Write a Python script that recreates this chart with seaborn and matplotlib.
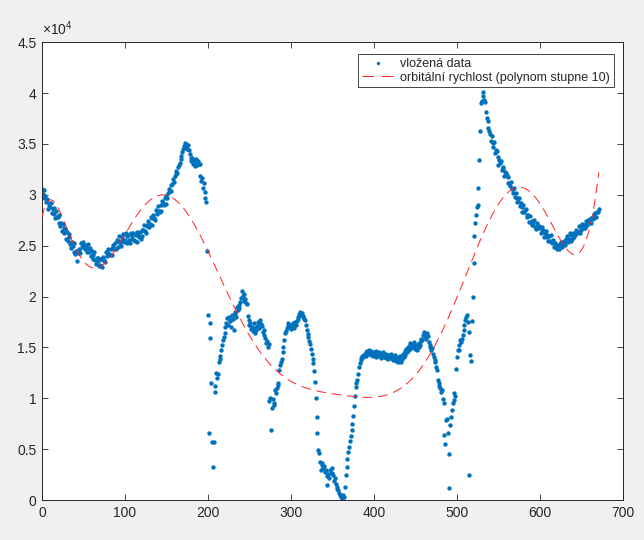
import numpy as np
import pandas as pd
import matplotlib
matplotlib.use("Agg")
import matplotlib.pyplot as plt
import seaborn as sns

# measured speed, in units of 1e4 (one value per sample, index = x)
v_1e4 = [
    3.06, 3.01, 3.05, 2.97, 2.99, 2.93, 2.96, 2.86, 2.92, 2.89,  # 0
    2.88, 2.92, 2.82, 2.86, 2.87, 2.81, 2.77, 2.84, 2.78, 2.78,  # 10
    2.80, 2.72, 2.69, 2.72, 2.64, 2.71, 2.67, 2.62, 2.66, 2.57,  # 20
    2.63, 2.55, 2.58, 2.61, 2.52, 2.48, 2.54, 2.50, 2.53, 2.44,  # 30
    2.42, 2.45, 2.35, 2.43, 2.47, 2.45, 2.43, 2.53, 2.49, 2.51,  # 40
    2.54, 2.49, 2.47, 2.51, 2.44, 2.52, 2.48, 2.44, 2.48, 2.40,  # 50
    2.45, 2.37, 2.41, 2.44, 2.36, 2.32, 2.38, 2.35, 2.38, 2.30,  # 60
    2.31, 2.37, 2.29, 2.36, 2.39, 2.36, 2.34, 2.44, 2.40, 2.43,  # 70
    2.47, 2.42, 2.41, 2.47, 2.41, 2.51, 2.49, 2.47, 2.53, 2.47,  # 80
    2.56, 2.49, 2.55, 2.59, 2.53, 2.50, 2.58, 2.56, 2.61, 2.54,  # 90
    2.56, 2.62, 2.53, 2.59, 2.60, 2.56, 2.53, 2.62, 2.57, 2.59,  # 100
    2.62, 2.56, 2.55, 2.60, 2.54, 2.63, 2.60, 2.58, 2.63, 2.57,  # 110
    2.65, 2.59, 2.65, 2.70, 2.64, 2.62, 2.70, 2.69, 2.74, 2.68,  # 120
    2.71, 2.78, 2.70, 2.77, 2.80, 2.77, 2.75, 2.85, 2.81, 2.84,  # 130
    2.89, 2.84, 2.83, 2.90, 2.84, 2.94, 2.92, 2.90, 2.97, 2.91,  # 140
    2.99, 2.97, 3.02, 3.06, 3.04, 3.04, 3.10, 3.11, 3.15, 3.13,  # 150
    3.18, 3.20, 3.23, 3.21, 3.27, 3.29, 3.31, 3.35, 3.38, 3.42,  # 160
    3.45, 3.48, 3.51, 3.47, 3.50, 3.45, 3.49, 3.44, 3.40, 3.36,  # 170
    3.33, 3.36, 3.30, 3.34, 3.28, 3.32, 3.35, 3.29, 3.33, 3.30,  # 180
    3.30, 3.18, 3.14, 3.16, 3.07, 3.12, 3.03, 2.97, 2.93, 2.45,  # 190
    1.82, 0.66, 1.74, 1.59, 1.15, 0.57, 0.32, 0.57, 1.06, 1.12,  # 200
    1.25, 1.20, 1.24, 1.36, 1.39, 1.42, 1.47, 1.52, 1.57, 1.60,  # 210
    1.64, 1.70, 1.74, 1.79, 1.72, 1.80, 1.76, 1.77, 1.70, 1.82,  # 220
    1.78, 1.67, 1.83, 1.85, 1.80, 1.90, 1.87, 1.92, 1.89, 1.95,  # 230
    1.99, 2.05, 2.01, 2.02, 1.96, 1.98, 1.94, 1.93, 1.81, 1.77,  # 240
    1.72, 1.74, 1.68, 1.70, 1.66, 1.74, 1.69, 1.64, 1.67, 1.71,  # 250
    1.75, 1.74, 1.69, 1.77, 1.73, 1.71, 1.65, 1.67, 1.62, 1.59,  # 260
    1.54, 1.56, 1.50, 1.53, 0.97, 1.00, 0.69, 0.90, 0.99, 0.95,  # 270
    0.93, 1.08, 1.05, 1.10, 1.13, 1.15, 1.28, 1.33, 1.36, 1.39,  # 280
    1.45, 1.50, 1.57, 1.64, 1.66, 1.69, 1.71, 1.74, 1.70, 1.72,  # 290
    1.68, 1.70, 1.74, 1.73, 1.69, 1.75, 1.72, 1.76, 1.78, 1.80,  # 300
    1.83, 1.85, 1.82, 1.84, 1.81, 1.80, 1.78, 1.77, 1.72, 1.67,  # 310
    1.63, 1.60, 1.56, 1.53, 1.48, 1.44, 1.39, 1.35, 1.27, 1.16,  # 320
    1.00, 0.82, 0.66, 0.49, 0.46, 0.37, 0.30, 0.34, 0.36, 0.31,  # 330
    0.33, 0.28, 0.30, 0.24, 0.15, 0.26, 0.22, 0.30, 0.27, 0.31,  # 340
    0.27, 0.25, 0.19, 0.22, 0.16, 0.13, 0.11, 0.10, 0.07, 0.05,  # 350
    0.03, 0.02, 0.04, 0.05, 0.03, 0.13, 0.25, 0.32, 0.40, 0.47,  # 360
    0.52, 0.58, 0.63, 0.69, 0.75, 0.83, 0.92, 1.02, 1.11, 1.15,  # 370
    1.18, 1.24, 1.31, 1.35, 1.38, 1.40, 1.42, 1.41, 1.43, 1.44,  # 380
    1.42, 1.45, 1.46, 1.44, 1.47, 1.45, 1.43, 1.46, 1.44, 1.42,  # 390
    1.45, 1.43, 1.46, 1.41, 1.44, 1.42, 1.45, 1.43, 1.40, 1.44,  # 400
    1.42, 1.45, 1.41, 1.43, 1.40, 1.44, 1.42, 1.39, 1.43, 1.41,  # 410
    1.44, 1.40, 1.42, 1.38, 1.41, 1.43, 1.39, 1.37, 1.40, 1.36,  # 420
    1.41, 1.38, 1.42, 1.36, 1.39, 1.44, 1.41, 1.46, 1.43, 1.48,  # 430
    1.45, 1.50, 1.47, 1.52, 1.54, 1.49, 1.53, 1.51, 1.55, 1.50,  # 440
    1.48, 1.52, 1.47, 1.53, 1.50, 1.55, 1.52, 1.58, 1.57, 1.62,  # 450
    1.65, 1.60, 1.63, 1.58, 1.64, 1.61, 1.55, 1.52, 1.50, 1.47,  # 460
    1.49, 1.44, 1.41, 1.38, 1.36, 1.31, 1.28, 1.18, 1.15, 1.12,  # 470
    1.10, 1.06, 1.08, 0.99, 0.95, 0.64, 0.55, 0.79, 0.80, 0.66,  # 480
    0.12, 0.45, 0.74, 0.82, 0.88, 0.95, 0.98, 1.05, 1.02, 1.29,  # 490
    1.41, 1.47, 1.47, 1.52, 1.57, 1.55, 1.58, 1.62, 1.67, 1.72,  # 500
    1.77, 1.80, 1.82, 1.75, 1.65, 0.25, 1.43, 1.37, 1.76, 2.00,  # 510
    2.33, 2.59, 2.72, 2.80, 2.88, 2.90, 3.07, 3.34, 3.63, 3.90,  # 520
    3.92, 3.97, 4.01, 3.93, 3.91, 3.81, 3.75, 3.72, 3.66, 3.63,  # 530
    3.60, 3.53, 3.58, 3.51, 3.47, 3.52, 3.41, 3.44, 3.43, 3.37,  # 540
    3.29, 3.34, 3.31, 3.33, 3.24, 3.25, 3.27, 3.18, 3.22, 3.21,  # 550
    3.19, 3.12, 3.17, 3.12, 3.09, 3.13, 3.06, 3.02, 3.06, 3.07,  # 560
    2.98, 3.02, 2.93, 2.97, 2.94, 2.97, 2.89, 2.92, 2.88, 2.83,  # 570
    2.90, 2.83, 2.85, 2.86, 2.78, 2.80, 2.80, 2.73, 2.79, 2.73,  # 580
    2.70, 2.74, 2.72, 2.75, 2.68, 2.66, 2.72, 2.69, 2.67, 2.69,  # 590
    2.67, 2.62, 2.68, 2.63, 2.65, 2.58, 2.62, 2.64, 2.58, 2.60,  # 600
    2.55, 2.59, 2.55, 2.60, 2.53, 2.54, 2.56, 2.49, 2.53, 2.49,  # 610
    2.52, 2.47, 2.50, 2.47, 2.52, 2.49, 2.54, 2.49, 2.52, 2.55,  # 620
    2.51, 2.57, 2.54, 2.59, 2.54, 2.57, 2.62, 2.55, 2.60, 2.57,  # 630
    2.62, 2.58, 2.61, 2.65, 2.61, 2.64, 2.63, 2.69, 2.62, 2.68,  # 640
    2.65, 2.71, 2.67, 2.70, 2.67, 2.74, 2.71, 2.70, 2.75, 2.72,  # 650
    2.76, 2.72, 2.77, 2.77, 2.76, 2.81, 2.78, 2.82, 2.78, 2.83,  # 660
    2.83, 2.86,                                                  # 670
]

x_ticks = [0, 100, 200, 300, 400, 500, 600, 700]
y_ticks = [0, 0.5, 1, 1.5, 2, 2.5, 3, 3.5, 4, 4.5]
y_ticklabels = ["0", "0.5", "1", "1.5", "2", "2.5", "3", "3.5", "4", "4.5"]

label_data = "vložená data"
label_fit = "orbitální rychlost (polynom stupne 10)"

df = pd.DataFrame({"x": np.arange(len(v_1e4)), "v": np.array(v_1e4) * 1e4})

# degree 10 polynomial fit (scaled domain to keep it well conditioned)
poly = np.polynomial.Polynomial.fit(df["x"], df["v"], 10)
df["fit"] = poly(df["x"])

sns.set_style("white")
plt.rcParams["font.family"] = ["Liberation Sans", "DejaVu Sans"]
plt.rcParams["mathtext.fontset"] = "custom"
plt.rcParams["mathtext.rm"] = "Liberation Sans"

fig = plt.figure(figsize=(6.44, 5.4), dpi=100, facecolor="#f0f0f0")
ax = fig.add_axes([0.0652, 0.074, 0.902, 0.848])
ax.set_facecolor("white")

sns.scatterplot(data=df, x="x", y="v", ax=ax, color="#0072BD", s=10,
                linewidth=0, marker="o", label=label_data, zorder=2)
sns.lineplot(data=df, x="x", y="fit", ax=ax, color="#FF2020", linewidth=0.7,
             label=label_fit, zorder=3)
ax.lines[0].set_dashes((10, 6))

ax.set_xlim(0, 700)
ax.set_ylim(0, 45000)
ax.set_xticks(x_ticks)
ax.set_yticks([t * 1e4 for t in y_ticks])
ax.set_yticklabels(y_ticklabels)
ax.set_xlabel("")
ax.set_ylabel("")

for sp in ax.spines.values():
    sp.set_visible(True)
    sp.set_color("#262626")
    sp.set_linewidth(0.7)
ax.tick_params(direction="in", length=4, width=0.6, color="#262626",
               labelsize=10, labelcolor="#262626", top=True, right=True,
               bottom=True, left=True, pad=4)

ax.text(0.0, 1.008, r"$\times\mathregular{10^{4}}$", transform=ax.transAxes,
        fontsize=10, color="#262626", ha="left", va="bottom")

leg = ax.legend(loc="upper right", bbox_to_anchor=(0.9845, 0.974),
                borderaxespad=0, fancybox=False, framealpha=1,
                edgecolor="#262626", fontsize=9, handlelength=2.65,
                borderpad=0.3, labelspacing=0.15, handletextpad=0.45)
leg.get_frame().set_linewidth(0.6)
for h in leg.legend_handles:
    try:
        h.set_sizes([6])
    except AttributeError:
        h.set_dashes((12, 8))

fig.savefig("out.png", dpi=100, facecolor=fig.get_facecolor())
